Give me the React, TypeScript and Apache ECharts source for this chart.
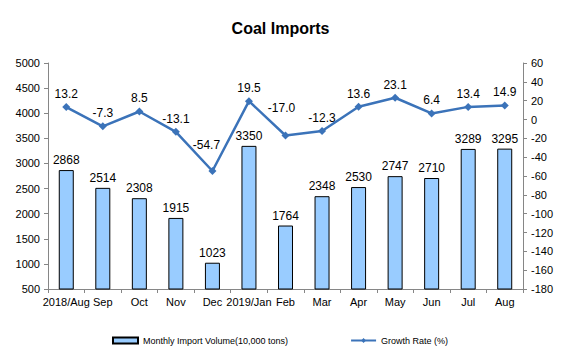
import React, { useEffect, useRef } from "react";
import * as echarts from "echarts";

const categories = ["2018/Aug", "Sep", "Oct", "Nov", "Dec", "2019/Jan", "Feb", "Mar", "Apr", "May", "Jun", "Jul", "Aug"];
const importVolume = [2868, 2514, 2308, 1915, 1023, 3350, 1764, 2348, 2530, 2747, 2710, 3289, 3295];
const growthRate = [13.2, -7.3, 8.5, -13.1, -54.7, 19.5, -17.0, -12.3, 13.6, 23.1, 6.4, 13.4, 14.9];

const FONT = "'Liberation Sans', Arial, sans-serif";

// label nudges (as in the reference, some labels are lifted to avoid the line)
const labelOffsets: Record<number, [number, number]> = { 4: [-6, -13], 6: [-4, -15] };

export default function App() {
  const ref = useRef<HTMLDivElement>(null);
  useEffect(() => {
    document.body.style.margin = "0";
    if (!ref.current) return;
    const chart = echarts.init(ref.current, null, { renderer: "svg" });
    const axisLine = { show: true, onZero: false, lineStyle: { color: "#868686", width: 1 } };
    const lineData = growthRate.map((v, i) =>
      labelOffsets[i] ? { value: v, label: { offset: labelOffsets[i] } } : v
    );
    chart.setOption({
      animation: false,
      backgroundColor: "#fff",
      textStyle: { fontFamily: FONT },
      title: {
        text: "Coal Imports",
        left: "center",
        top: 15,
        textStyle: { fontFamily: FONT, fontSize: 16, fontWeight: "bold", color: "#000" },
      },
      legend: {
        left: 112,
        top: 336,
        padding: 0,
        itemGap: 62,
        itemWidth: 25,
        itemHeight: 6,
        textStyle: { fontFamily: FONT, fontSize: 9, color: "#000" },
        data: [
          { name: "Monthly Import Volume(10,000 tons)", icon: "rect" },
          { name: "Growth Rate (%)" },
        ],
      },
      grid: { left: 48, right: 38, top: 63, bottom: 68, containLabel: false },
      xAxis: {
        type: "category",
        data: categories,
        boundaryGap: true,
        axisLine,
        axisTick: { show: true, length: 4, lineStyle: { color: "#868686" } },
        axisLabel: { color: "#000", fontSize: 11, fontFamily: FONT, margin: 7, interval: 0 },
        splitLine: { show: false },
      },
      yAxis: [
        {
          type: "value",
          min: 500,
          max: 5000,
          interval: 500,
          axisLine,
          axisTick: { show: true, length: 4, lineStyle: { color: "#868686" } },
          axisLabel: { color: "#000", fontSize: 11, fontFamily: FONT, margin: 8, formatter: (v: number) => String(v) },
          splitLine: { show: false },
        },
        {
          type: "value",
          min: -180,
          max: 60,
          interval: 20,
          position: "right",
          axisLine,
          axisTick: { show: true, length: 4, lineStyle: { color: "#868686" } },
          axisLabel: { color: "#000", fontSize: 11, fontFamily: FONT, margin: 8, formatter: (v: number) => String(v) },
          splitLine: { show: false },
        },
      ],
      series: [
        {
          name: "Monthly Import Volume(10,000 tons)",
          type: "bar",
          data: importVolume,
          barWidth: 15,
          itemStyle: { color: "#99CCFF", borderColor: "#000", borderWidth: 1 },
          label: { show: true, position: "top", color: "#000", fontSize: 12, fontFamily: FONT, distance: 4 },
        },
        {
          name: "Growth Rate (%)",
          type: "line",
          yAxisIndex: 1,
          data: lineData,
          symbol: "diamond",
          symbolSize: 8,
          lineStyle: { color: "#3B73B9", width: 2.5 },
          itemStyle: { color: "#3B73B9" },
          label: {
            show: true,
            position: "top",
            color: "#000",
            fontSize: 12,
            fontFamily: FONT,
            distance: 3,
            formatter: (p: any) => Number(p.value).toFixed(1),
          },
        },
      ],
    });
    return () => chart.dispose();
  }, []);
  return <div ref={ref} style={{ width: 561, height: 357 }} />;
}
